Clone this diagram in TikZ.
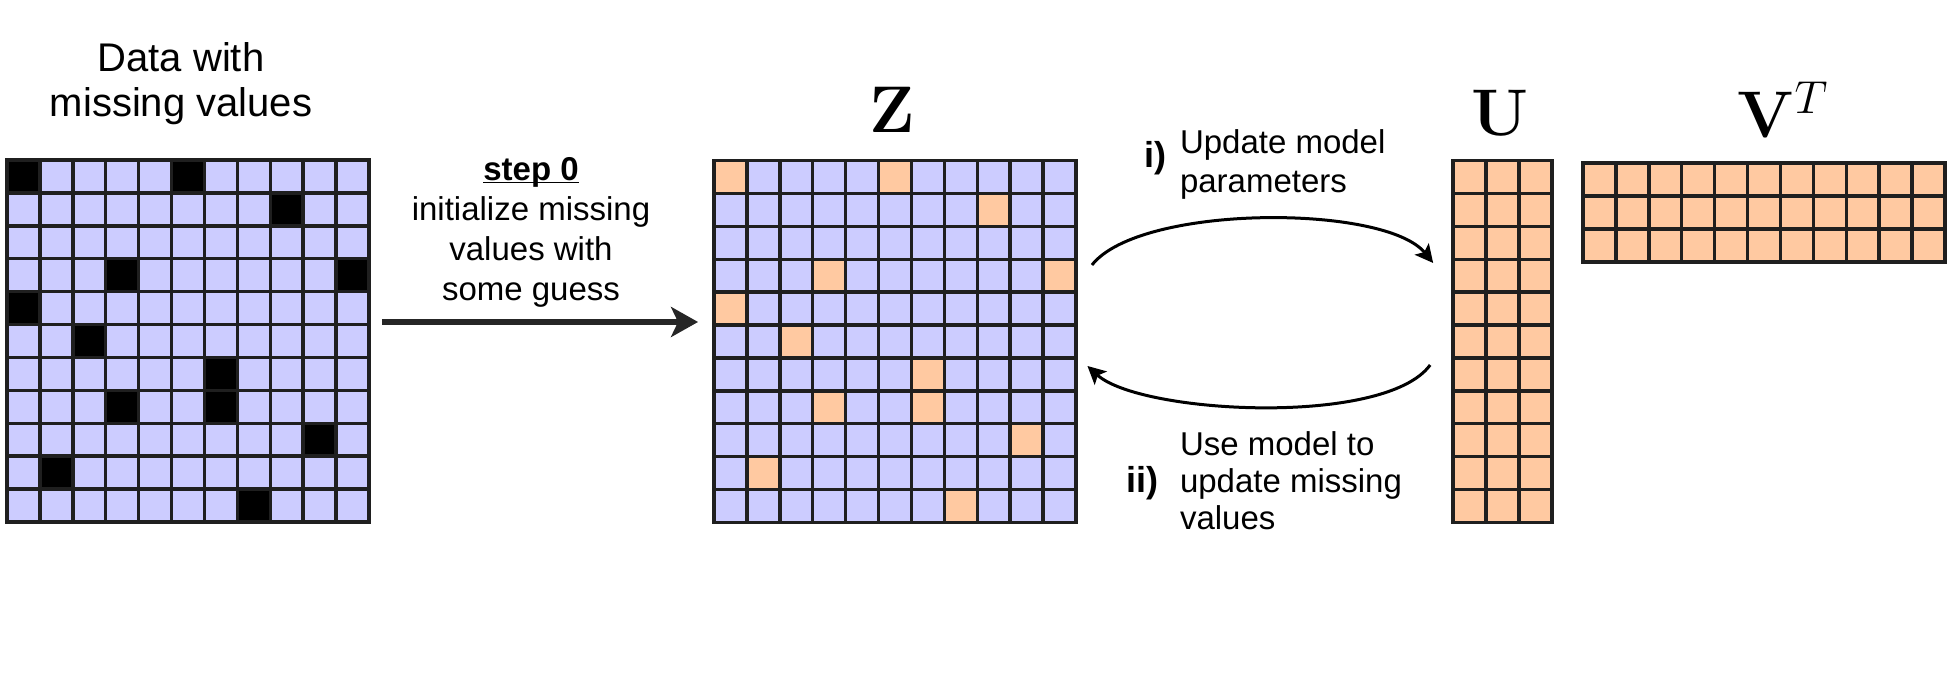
\RequirePackage{fix-cm}
\documentclass[tikz,border=0pt]{standalone}
\usepackage[no-math]{fontspec}
\setmainfont{Liberation Sans}
\usepackage{xcolor}
\usepackage{tikz}
\usetikzlibrary{arrows.meta, positioning}

\definecolor{cellblue}{RGB}{204,204,255}
\definecolor{cellorange}{RGB}{255,201,161}

\begin{document}
\begin{tikzpicture}[
    x=0.5pt, y=0.5pt,
    matbox/.style={rectangle, inner sep=0pt, outer sep=0pt},
    gridline/.style={line width=1.7pt, draw=black!88, line cap=rect},
    textlabel/.style={inner sep=0pt, outer sep=0pt, align=center},
    mathlabel/.style={inner sep=0pt, outer sep=0pt, font=\fontsize{33}{40}\selectfont},
    flow/.style={line width=3pt, draw=black!85, -{Stealth[length=13.5pt, width=15pt, inset=3.5pt]}},
    updatearrow/.style={line width=1.5pt, -{Stealth[length=9pt, width=9pt, inset=2pt]}}
  ]
  \def\cell{32.9}
  \useasboundingbox (0,0) rectangle (1950,683);

  % matrices
  \node[matbox, fill=cellblue, minimum width=11*\cell*0.5pt, minimum height=11*\cell*0.5pt] (data) at (188,342) {};
  \node[matbox, fill=cellblue, minimum width=11*\cell*0.5pt, minimum height=11*\cell*0.5pt] (Zmat) at (895,341.5) {};
  \node[matbox, fill=cellorange, minimum width=3*\cell*0.5pt, minimum height=11*\cell*0.5pt] (Umat) at (1502.5,341.5) {};
  \node[matbox, fill=cellorange, minimum width=11*\cell*0.5pt, minimum height=3*\cell*0.5pt] (Vmat) at (1764,470.5) {};

  % missing entries and their guesses
  \foreach \r/\c in {0/0,0/5,1/8,3/3,3/10,4/0,5/2,6/6,7/3,7/6,8/9,9/1,10/7} {
    \fill[black] ([shift={(\c*\cell,-\r*\cell)}]data.north west) rectangle ++(\cell,-\cell);
    \fill[cellorange] ([shift={(\c*\cell,-\r*\cell)}]Zmat.north west) rectangle ++(\cell,-\cell);
  }

  % grid lines
  \foreach \m/\nc/\nr in {data/11/11, Zmat/11/11, Umat/3/11, Vmat/11/3} {
    \begin{scope}[shift={(\m.north west)}]
      \foreach \i in {0,...,\nc}
        \draw[gridline] (\i*\cell,0) -- (\i*\cell,-\nr*\cell);
      \foreach \j in {0,...,\nr}
        \draw[gridline] (0,-\j*\cell) -- (\nc*\cell,-\j*\cell);
    \end{scope}
  }

  % labels
  \node[textlabel, font=\fontsize{20}{22.5}\selectfont, above=17.5pt of data, xshift=-3.5pt] (datalabel) {Data with\\missing values};
  \node[mathlabel, above=13.9pt of Zmat, xshift=-1.5pt] (zlabel) {$\mathbf{Z}$};
  \node[mathlabel, above=12.3pt of Umat, xshift=-1.2pt] (ulabel) {$\mathbf{U}$};
  \node[mathlabel, above=13pt of Vmat, xshift=9.5pt] (vlabel) {$\mathbf{V}^T$};

  % step 0
  \draw[flow] ([shift={(13,19)}]data.east) -- ([shift={(-16,19.5)}]Zmat.west);
  \node[textlabel, font=\fontsize{16.5}{20}\selectfont] (steptext) at (531,451)
    {\underline{\raisebox{0pt}[\height][0pt]{\textbf{step 0}}}\\initialize missing\\values with\\some guess};

  % alternating updates
  \draw[updatearrow] ([shift={(16,76.5)}]Zmat.east) .. controls (1140,479) and (1385,479) .. ([shift={(-20,78.5)}]Umat.west);
  \draw[updatearrow] ([shift={(-23,-23.5)}]Umat.west) .. controls (1385,256) and (1140,269) .. ([shift={(11.5,-24.5)}]Zmat.east);

  \node[textlabel, align=left, anchor=west, font=\fontsize{16.5}{19.5}\selectfont] (updtext) at (1180,519) {Update model\\parameters};
  \node[textlabel, font=\fontsize{18}{20}\selectfont\bfseries, left=7pt of updtext, yshift=3pt] (stepi) {i)};
  \node[textlabel, align=left, anchor=west, font=\fontsize{16.5}{18.5}\selectfont] (usetext) at (1180,202) {Use model to\\update missing\\values};
  \node[textlabel, font=\fontsize{18}{20}\selectfont\bfseries, left=11pt of usetext, yshift=-1pt] (stepii) {ii)};
\end{tikzpicture}
\end{document}
